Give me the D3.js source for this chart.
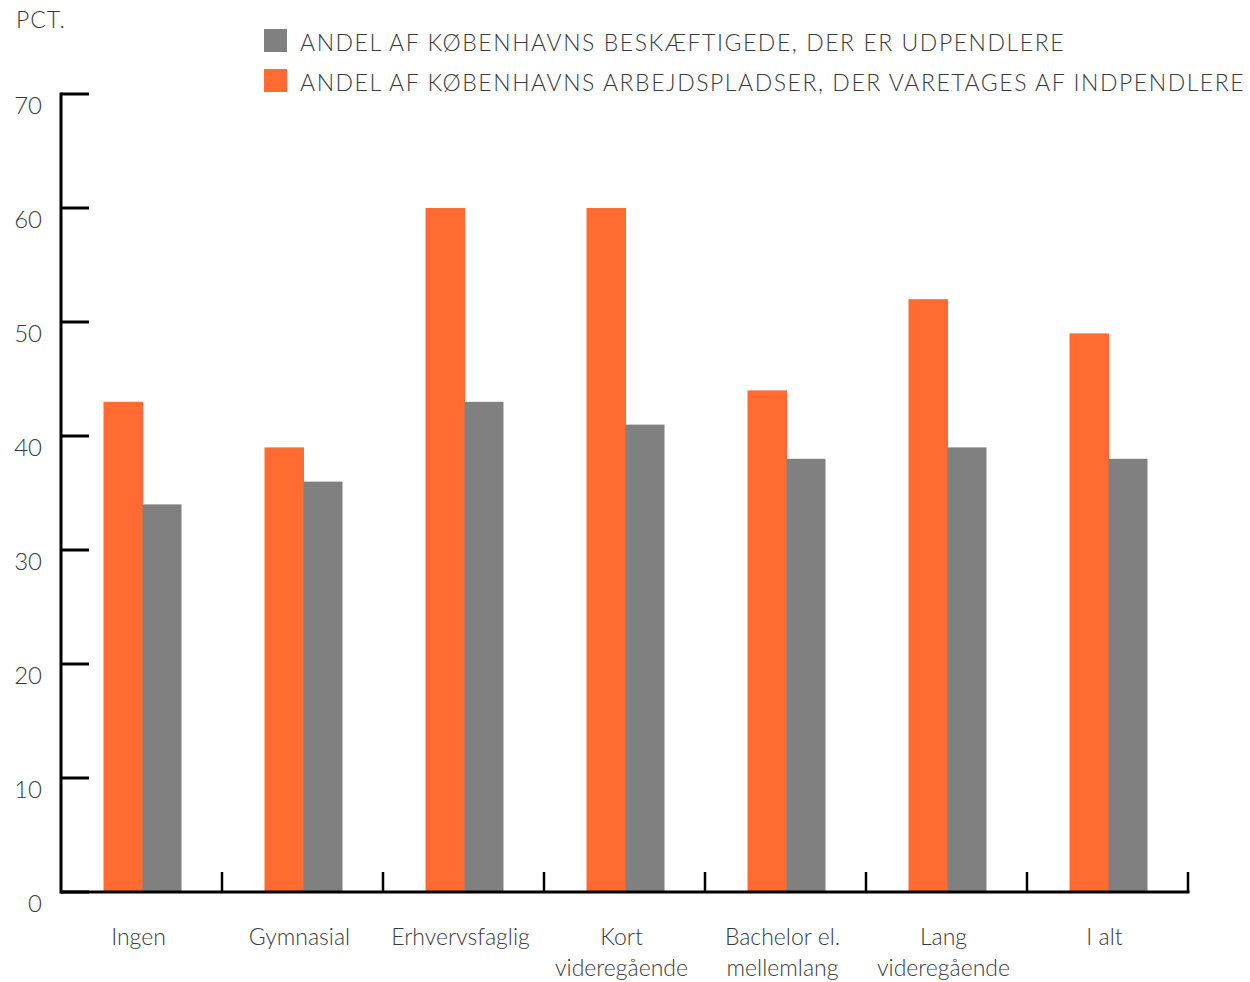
<!DOCTYPE html>
<html>
<head>
<meta charset="utf-8">
<script src="https://cdn.jsdelivr.net/npm/d3@7"></script>
<style>
  body { margin: 0; background: #fff; }
  text { font-family: Lato, "Open Sans", sans-serif; font-weight: 300; fill: #3a3a3a; }
</style>
</head>
<body>
<svg id="chart" width="1250" height="982"></svg>
<script>
const categories = [
  ['Ingen'],
  ['Gymnasial'],
  ['Erhvervsfaglig'],
  ['Kort', 'videregående'],
  ['Bachelor el.', 'mellemlang'],
  ['Lang', 'videregående'],
  ['I alt']
];
const indpendlere = [43, 39, 60, 60, 44, 52, 49];
const udpendlere = [34, 36, 43, 41, 38, 39, 38];
const seriesNames = [
  'ANDEL AF KØBENHAVNS BESKÆFTIGEDE, DER ER UDPENDLERE',
  'ANDEL AF KØBENHAVNS ARBEJDSPLADSER, DER VARETAGES AF INDPENDLERE'
];
const yTicks = [0, 10, 20, 30, 40, 50, 60, 70];

const orange = '#ff6b30';
const grey = '#808080';

const svg = d3.select('#chart');
const plotLeft = 61, plotRight = 1188, plotTop = 94, plotBottom = 892;

const x = d3.scaleBand()
  .domain(d3.range(categories.length))
  .range([plotLeft, plotRight])
  .paddingInner(0)
  .paddingOuter(0);

const y = d3.scaleLinear().domain([0, 70]).range([plotBottom, plotTop]);

const barW = 39;

// bars
const groups = svg.append('g')
  .selectAll('g')
  .data(categories.map((c, i) => ({i, ind: indpendlere[i], ud: udpendlere[i]})))
  .join('g')
  .attr('transform', d => `translate(${x(d.i) + x.bandwidth() / 2 + 1},0)`);

groups.append('rect')
  .attr('x', -barW)
  .attr('width', barW + 0.5)
  .attr('y', d => y(d.ind))
  .attr('height', d => y(0) - y(d.ind))
  .attr('fill', orange);

groups.append('rect')
  .attr('x', 0)
  .attr('width', barW)
  .attr('y', d => y(d.ud))
  .attr('height', d => y(0) - y(d.ud))
  .attr('fill', grey);

// y axis
const yAxis = svg.append('g');
yAxis.append('line')
  .attr('x1', plotLeft).attr('x2', plotLeft)
  .attr('y1', plotTop - 1.5).attr('y2', plotBottom + 1.5)
  .attr('stroke', '#000').attr('stroke-width', 3);
yAxis.selectAll('line.tick')
  .data(yTicks)
  .join('line')
  .attr('class', 'tick')
  .attr('x1', plotLeft).attr('x2', plotLeft + 28)
  .attr('y1', d => y(d)).attr('y2', d => y(d))
  .attr('stroke', '#000').attr('stroke-width', 3);
yAxis.selectAll('text')
  .data(yTicks)
  .join('text')
  .attr('x', 42)
  .attr('y', d => y(d) + 20)
  .attr('text-anchor', 'end')
  .attr('font-size', 24)
  .text(d => d);

// x axis
const xAxis = svg.append('g');
xAxis.append('line')
  .attr('x1', plotLeft).attr('x2', plotRight + 1.5)
  .attr('y1', plotBottom).attr('y2', plotBottom)
  .attr('stroke', '#000').attr('stroke-width', 3);
xAxis.selectAll('line.tick')
  .data(d3.range(1, categories.length + 1))
  .join('line')
  .attr('class', 'tick')
  .attr('x1', d => x.step() * d + plotLeft).attr('x2', d => x.step() * d + plotLeft)
  .attr('y1', plotBottom).attr('y2', plotBottom - 20)
  .attr('stroke', '#000').attr('stroke-width', 2.5);

const labels = xAxis.selectAll('text')
  .data(categories)
  .join('text')
  .attr('text-anchor', 'middle')
  .attr('font-size', 23)
  .attr('transform', (d, i) => `translate(${x(i) + x.bandwidth() / 2 - 3},945)`);
labels.selectAll('tspan')
  .data(d => d)
  .join('tspan')
  .attr('x', 0)
  .attr('dy', (d, i) => i === 0 ? 0 : 31)
  .text(d => d);

// unit label
svg.append('text')
  .attr('x', 16).attr('y', 28)
  .attr('font-size', 23)
  .attr('letter-spacing', 1)
  .text('PCT.');

// legend
const legend = svg.append('g')
  .selectAll('g')
  .data(seriesNames)
  .join('g')
  .attr('transform', (d, i) => `translate(264,${29 + i * 40})`);
legend.append('rect')
  .attr('width', 23).attr('height', 23)
  .attr('fill', (d, i) => i === 0 ? grey : orange);
legend.append('text')
  .attr('x', 36).attr('y', 22)
  .attr('font-size', 23)
  .attr('letter-spacing', 1.55)
  .text(d => d);
</script>
</body>
</html>
